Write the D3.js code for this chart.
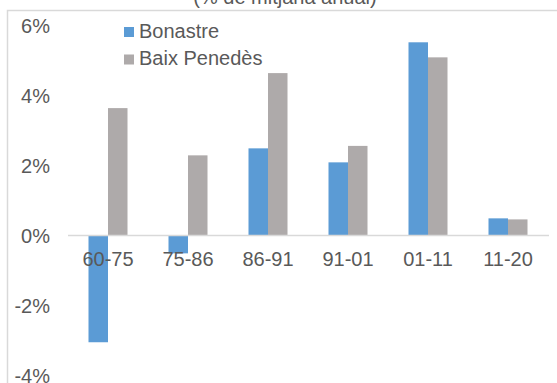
<!DOCTYPE html>
<html><head><meta charset="utf-8">
<script src="https://cdn.jsdelivr.net/npm/d3@7"></script>
<style>body{margin:0;background:#fff}svg{display:block}</style>
</head><body>
<svg id="c" width="557" height="383"></svg>
<script>
const categories = ["60-75","75-86","86-91","91-01","01-11","11-20"];
const seriesNames = ["Bonastre","Baix Penedès"];
const bonastre = [-3.05,-0.51,2.49,2.09,5.52,0.49];
const baixPenedes = [3.64,2.29,4.64,2.56,5.09,0.46];
const yTicks = [-4,-2,0,2,4,6];
const colors = ["#5B9BD5","#AEAAAA"];
const title = "(% de mitjana anual)";

const svg = d3.select("#c");
const font = "'Liberation Sans', Arial, sans-serif";
const txt = "#595959";

// chart frame
svg.append("path").attr("d","M7.5,383 V10.5 H557").attr("fill","none").attr("stroke","#D9D9D9").attr("stroke-width",1.5);
svg.append("text").attr("x",285).attr("y",3.5).attr("text-anchor","middle")
  .attr("font-family",font).attr("font-size",20).attr("fill",txt).text(title);

const x = d3.scaleBand().domain(categories).range([68,548]).paddingInner(0).paddingOuter(0);
const y = d3.scaleLinear().domain([-4,6]).range([375.5,25.5]);
const xs = d3.scaleBand().domain([0,1]).range([0,39]);

const yAxis = d3.axisLeft(y).tickValues(yTicks).tickFormat(d=>d+"%").tickSize(0).tickPadding(0);
const ga = svg.append("g").attr("transform","translate(50,0)").call(yAxis);
ga.select(".domain").remove();
ga.selectAll("text").attr("font-family",font).attr("font-size",20).attr("fill",txt).attr("dy","0.35em");

const series = [bonastre, baixPenedes];
series.forEach((vals,si)=>{
  svg.append("g").selectAll("rect").data(vals).join("rect")
    .attr("x",(d,i)=>x(categories[i]) + x.bandwidth()/2 - 19.5 + xs(si))
    .attr("width",xs.bandwidth())
    .attr("y",d=>y(Math.max(0,d)))
    .attr("height",d=>Math.abs(y(d)-y(0)))
    .attr("fill",colors[si]);
});

// zero line
svg.append("line").attr("x1",68).attr("x2",549).attr("y1",y(0)).attr("y2",y(0))
  .attr("stroke","#D9D9D9").attr("stroke-width",1.5);

const xAxis = d3.axisBottom(x).tickSize(0).tickPadding(0);
const gx = svg.append("g").attr("transform",`translate(0,${y(0)})`).call(xAxis);
gx.select(".domain").remove();
gx.selectAll("text").attr("font-family",font).attr("font-size",20).attr("fill",txt).attr("dy",0).attr("y",30);

// legend
const lg = svg.append("g");
seriesNames.forEach((n,i)=>{
  lg.append("rect").attr("x",124).attr("y",27+i*27.5).attr("width",10).attr("height",10).attr("fill",colors[i]);
  lg.append("text").attr("x",139).attr("y",37.5+i*27.5).attr("font-family",font).attr("font-size",20).attr("fill",txt).text(n);
});
</script>
</body></html>
